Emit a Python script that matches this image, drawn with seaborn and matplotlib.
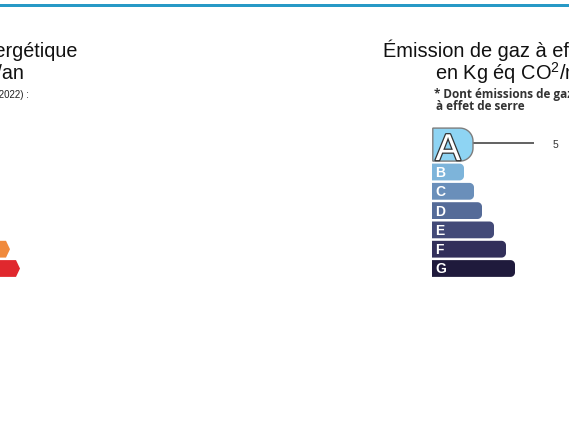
import numpy as np
import matplotlib
matplotlib.use("Agg")
import matplotlib.pyplot as plt
import matplotlib.patheffects as pe
from matplotlib.patches import Polygon, Rectangle
import seaborn as sns

# --- data -------------------------------------------------------------
classes = ["A", "B", "C", "D", "E", "F", "G"]

# energy scale (left, mostly outside the crop) - bar lengths in px
energy_lengths = [50, 65, 80, 95, 110, 140, 150]
energy_colors = ["#009c6d", "#55b150", "#7ebf74", "#f3e61c", "#f2b31b", "#f08a3c", "#e0282e"]

# GES scale (right) - bar lengths in px, A is the highlighted class
ges_lengths = [41, 32, 42, 50, 62, 74, 83]
ges_colors = ["#8ed4f3", "#7db4da", "#6a8fba", "#556b98", "#434a78", "#322f5a", "#1f1a3c"]
ges_class = "A"
ges_value = "5"

left_title = ["Consommation énergétique", "en kWh/m²/an"]
left_note = "(prix moyens des énergies indexés au 1er janvier 2022) :"
right_title = ["Émission de gaz à effet de serre", r"en Kg éq CO$^{2}$/m$^{2}$/an"]
right_note = ["* Dont émissions de gaz", "à effet de serre"]

# --- layout -----------------------------------------------------------
W, H = 569, 445
PX_Y = 19.3          # px per category row
ROW_G = 268.5        # px centre of row G


def fy(px):
    return 1 - px / H


def rounded_right(x0, y0, w, h, r):
    ry = r / PX_Y
    x1 = x0 + w
    t = np.linspace(0, np.pi / 2, 14)
    top = [(x1 - r + r * np.sin(a), y0 + ry - ry * np.cos(a)) for a in t]
    bot = [(x1 - r + r * np.cos(a), y0 + h - ry + ry * np.sin(a)) for a in t]
    return [(x0, y0)] + top + bot + [(x0, y0 + h)]


def arrow(x0, y0, w, h, tip=4):
    x1 = x0 + w
    return [(x0, y0), (x1 - tip, y0), (x1, y0 + h / 2), (x1 - tip, y0 + h), (x0, y0 + h)]


plt.rcParams["font.family"] = ["Liberation Sans", "DejaVu Sans"]
plt.rcParams["mathtext.fontset"] = "custom"
plt.rcParams["mathtext.rm"] = "Liberation Sans"
plt.rcParams["mathtext.it"] = "Liberation Sans:italic"

fig = plt.figure(figsize=(W / 100, H / 100), dpi=100)

ax_top = ROW_G - 7.5 * PX_Y
ax_bot = ROW_G + 0.5 * PX_Y
ax_b = fy(ax_bot)
ax_h = (ax_bot - ax_top) / H

# energy axes, extends off the left edge
en_left = -130
en_w = 200
ax_en = fig.add_axes([en_left / W, ax_b, en_w / W, ax_h])
sns.barplot(x=energy_lengths, y=classes, hue=classes, palette=energy_colors,
            orient="h", width=0.87, saturation=1, legend=False, ax=ax_en)

# GES axes
ges_left = 432
ax_ges = fig.add_axes([ges_left / W, ax_b, (W - ges_left) / W, ax_h])
sns.barplot(x=ges_lengths, y=classes, hue=classes, palette=ges_colors,
            orient="h", width=0.87, saturation=1, legend=False, ax=ax_ges)

for ax, xmax in [(ax_en, en_w), (ax_ges, W - ges_left)]:
    ax.set_xlim(0, xmax)
    ax.set_ylim(6.5, -1.5)
    ax.set_axis_off()

# energy bars -> arrows
for p in list(ax_en.patches):
    x0, y0, w, h = p.get_x(), p.get_y(), p.get_width(), p.get_height()
    fc = p.get_facecolor()
    p.remove()
    ax_en.add_patch(Polygon(arrow(x0, y0, w, h), closed=True, facecolor=fc, edgecolor="none"))

# GES bars -> rounded right ends
for p in list(ax_ges.patches):
    x0, y0, w, h = p.get_x(), p.get_y(), p.get_width(), p.get_height()
    fc = p.get_facecolor()
    idx = int(round(y0 + h / 2))
    p.remove()
    letter = classes[idx]
    if letter == ges_class:
        yc = -0.42
        hh = 33 / PX_Y
        verts = rounded_right(0.8, yc - hh / 2, w - 0.8, hh, 13)
        ax_ges.add_patch(Polygon(verts, closed=True, facecolor=fc,
                                 edgecolor="#7d7d7d", linewidth=1.0, zorder=3))
        t = ax_ges.text(16, yc + 15.5 / PX_Y, letter, ha="center", va="baseline",
                        fontsize=27, color="white", zorder=4)
        t.set_path_effects([pe.withStroke(linewidth=1.8, foreground="#333333")])
        ax_ges.plot([w, w + 61], [yc - 1.2 / PX_Y] * 2, color="#555555", lw=1.3,
                    solid_capstyle="butt")
        ax_ges.text(w + 82, yc, ges_value, ha="center", va="center",
                    fontsize=7.5, color="#333333")
    else:
        ax_ges.add_patch(Polygon(rounded_right(-1, y0, w + 1, h, 4.5), closed=True,
                                 facecolor=fc, edgecolor="none"))
        ax_ges.text(3.5, y0 + h / 2 + 0.05, letter, ha="left", va="center",
                    fontsize=10, fontweight="bold", color="white")

# blue rule at top
fig.add_artist(Rectangle((0, fy(7.2)), 1, 3 / H, transform=fig.transFigure,
                         facecolor="#2799c6", edgecolor="none"))

# left titles (cut by the left edge)
fig.text(77 / W, fy(57), left_title[0], ha="right", va="baseline", fontsize=14.2, color="#111111")
fig.text(23.5 / W, fy(79), left_title[1], ha="right", va="baseline", fontsize=14.2, color="#111111")
fig.text(28.5 / W, fy(98), left_note, ha="right", va="baseline", fontsize=7, color="#222222")

# right titles (cut by the right edge)
fig.text(383 / W, fy(57), right_title[0], ha="left", va="baseline", fontsize=14.4, color="#111111")
fig.text(435 / W, fy(80), right_title[1], ha="left", va="baseline", fontsize=14.4, color="#111111")
fig.text(434 / W, fy(98), right_note[0], ha="left", va="baseline", fontsize=8.5,
         fontweight="bold", color="#333333", family=["Open Sans", "DejaVu Sans"])
fig.text(436 / W, fy(110.5), right_note[1], ha="left", va="baseline", fontsize=8.5,
         fontweight="bold", color="#333333", family=["Open Sans", "DejaVu Sans"])

fig.savefig("out.png", dpi=100)
